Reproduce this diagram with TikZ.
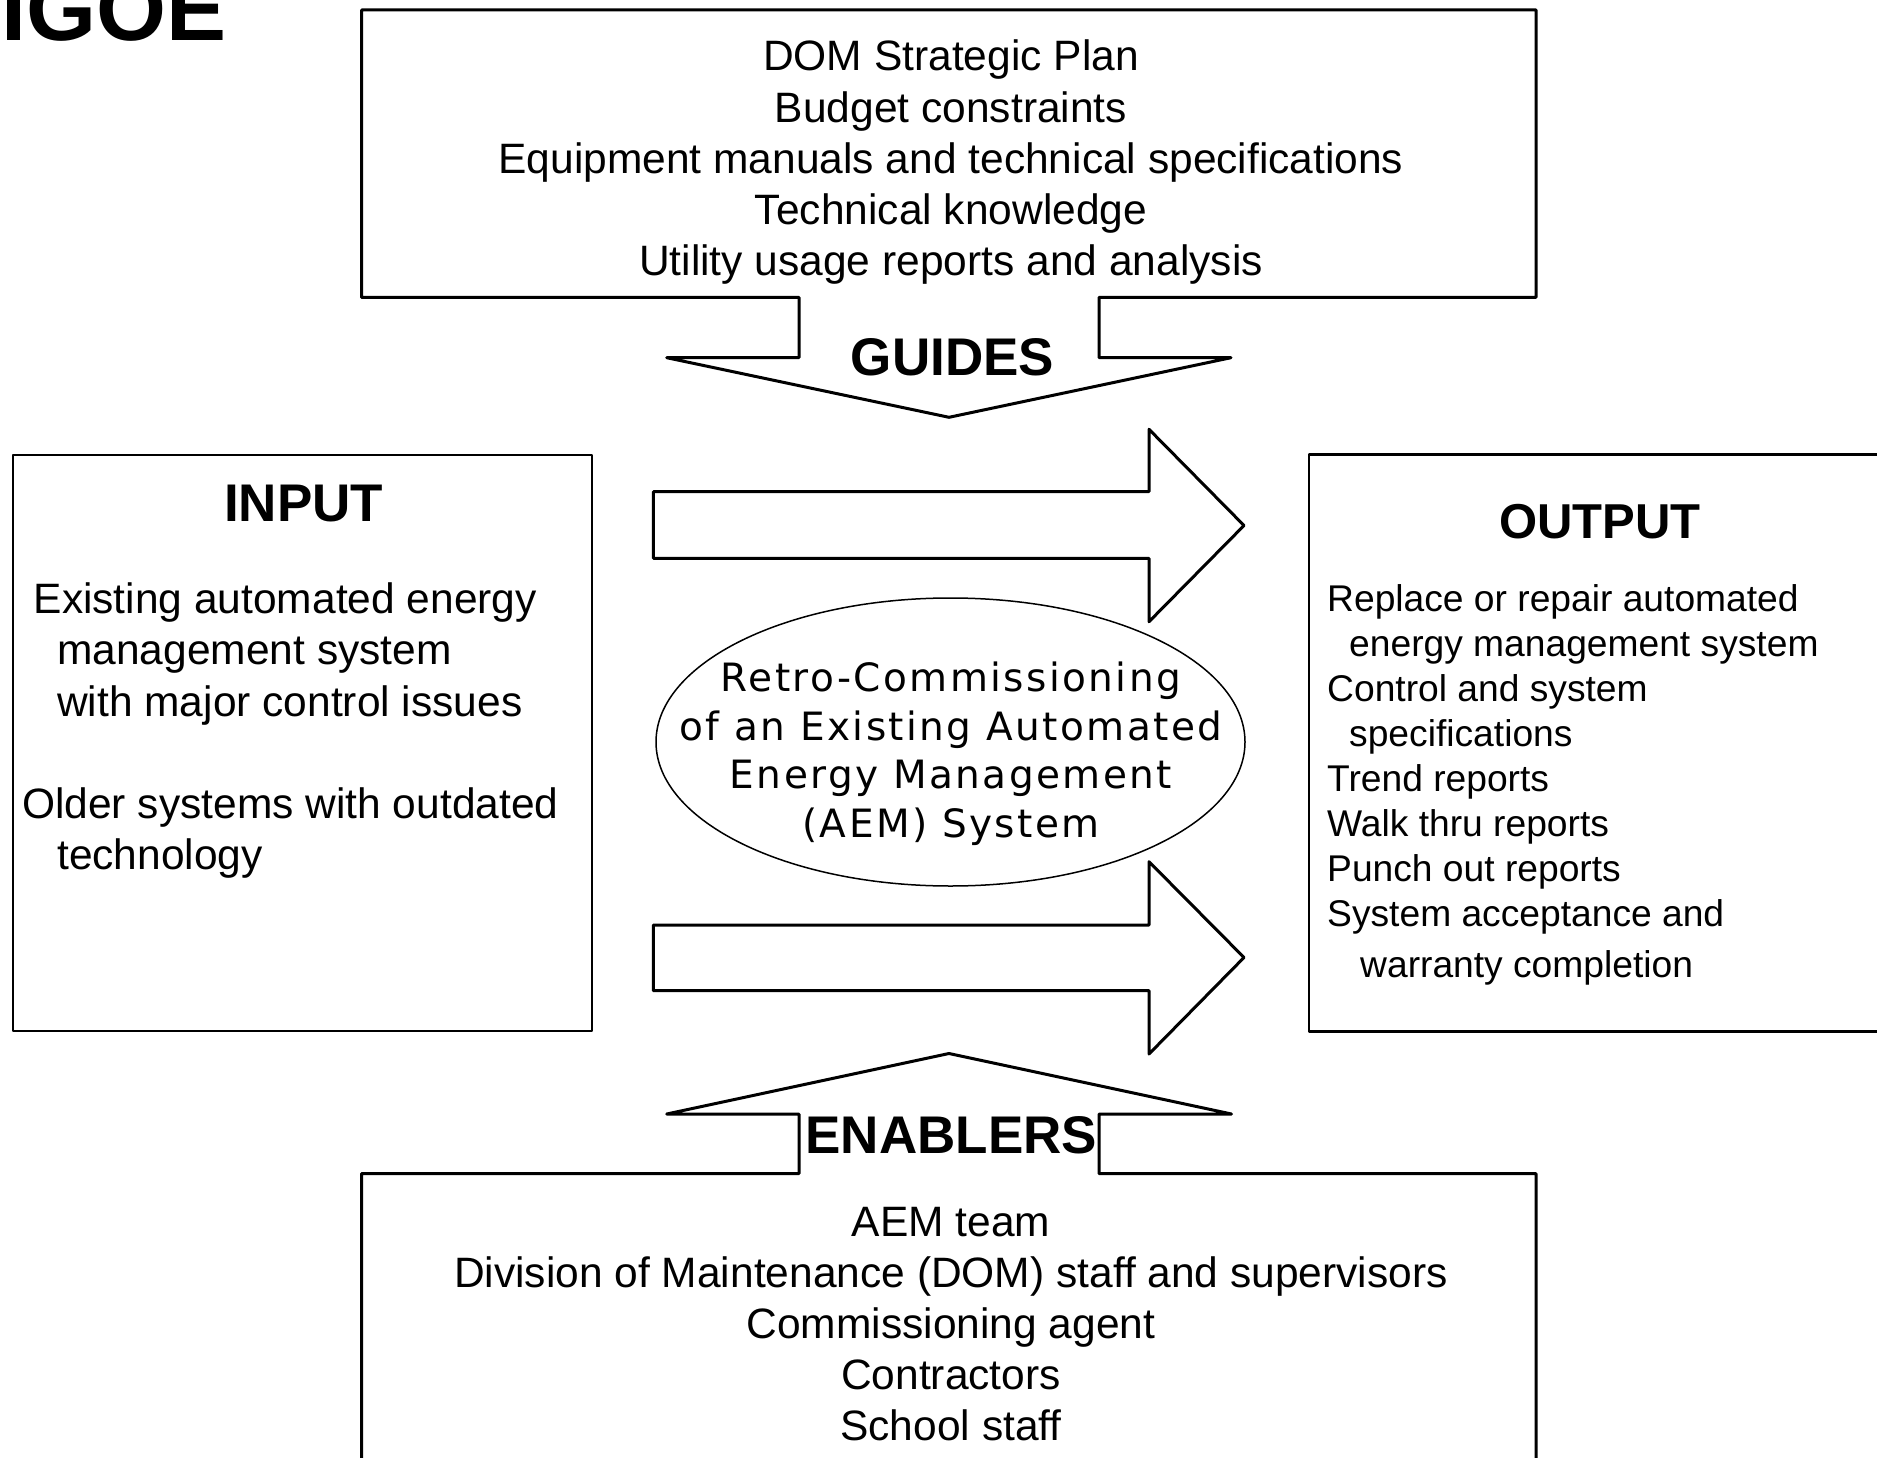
\documentclass[tikz,border=0pt]{standalone}
\usepackage{fontspec}
\setmainfont{Liberation Sans}
\newfontfamily\ovalfont[LetterSpace=6.2]{DejaVu Sans}
\usetikzlibrary{shapes.geometric}
\tikzset{
  frame/.style={draw, line width=3pt, line join=round},
  heading/.style={inner sep=0pt, font=\bfseries\fontsize{53}{60}\selectfont},
  bodytext/.style={inner sep=0pt, font=\fontsize{42.5}{51.2}\selectfont},
  listtext/.style={inner sep=0pt, font=\fontsize{37.2}{45}\selectfont},
  ovaltext/.style={inner sep=0pt, font=\ovalfont\fontsize{39}{48.5}\selectfont}
}

\begin{document}
\begin{tikzpicture}[x=1pt, y=-1pt]
    \useasboundingbox (0,0) rectangle (1877,1458);
    \clip (0,0) rectangle (1877,1458);
    \fill[white] (0,0) rectangle (1877,1458);

    \node[inner sep=0pt, font=\bfseries\fontsize{90}{90}\selectfont, anchor=base east] (title) at (226.5,41) {IGOE};

    % guides box with its arrow
    \draw[frame] (799,297.3) -- (361.5,297.3) -- (361.5,10) -- (1536,10) -- (1536,297.3) -- (1099,297.3)
      -- (1099,357.7) -- (1231,357.7) -- (949,417.3) -- (666.7,357.7) -- (799,357.7) -- cycle;
    \node[bodytext, align=center, anchor=north] (guidestext) at (951,40) {DOM Strategic Plan\\Budget constraints\\Equipment manuals and technical specifications\\Technical knowledge\\Utility usage reports and analysis};
    \node[heading, anchor=base] (guideslabel) at (952.5,375) {GUIDES};

    % input
    \node[frame, line width=2pt, minimum width=578.7pt, minimum height=576.3pt, anchor=north west] (inputbox) at (12,453.7) {};
    \node[heading, anchor=base] (inputlabel) at (303.7,521.5) {INPUT};
    \node[bodytext, align=left, anchor=north west] (inputtext) at (22,582.6) {\hspace*{11.5pt}Existing automated energy\\ \hspace*{35pt}management system\\ \hspace*{35pt}with major control issues\\[51.2pt] Older systems with outdated\\ \hspace*{35pt}technology};

    % output
    \node[frame, line width=2.5pt, minimum width=592pt, minimum height=576.7pt, anchor=north west] (outputbox) at (1307.7,453.3) {};
    \node[heading, font=\bfseries\fontsize{49}{56}\selectfont, anchor=base] (outputlabel) at (1600,538) {OUTPUT};
    \node[listtext, align=left, anchor=north west] (outputtext) at (1327,584.6) {Replace or repair automated\\ \hspace*{22pt}energy management system\\ Control and system\\ \hspace*{22pt}specifications\\ Trend reports\\ Walk thru reports\\ Punch out reports\\ System acceptance and\\[6pt] \hspace*{33pt}warranty completion};

    % the process and its arrows
    \draw[frame] (653.3,491.7) -- (1149,491.7) -- (1149,429.3) -- (1244,525.5) -- (1149,621.7) -- (1149,558.3) -- (653.3,558.3) -- cycle;
    \draw[frame] (653.3,925) -- (1149,925) -- (1149,861.7) -- (1244,957.5) -- (1149,1054) -- (1149,990.7) -- (653.3,990.7) -- cycle;
    \node[draw, ellipse, line width=1.5pt, inner sep=0pt, minimum width=589pt, minimum height=288pt] (process) at (950.5,742) {};
    \node[ovaltext, align=center, anchor=north] (processtext) at (951,662) {Retro-Commissioning\\of an Existing Automated\\Energy Management\\(AEM) System};

    % enablers box with its arrow
    \draw[frame] (799,1173.6) -- (799,1114) -- (666.7,1114) -- (949,1053.5) -- (1231.5,1114) -- (1099,1114)
      -- (1099,1173.6) -- (1536,1173.6) -- (1536,1475) -- (361.5,1475) -- (361.5,1173.6) -- cycle;
    \node[heading, anchor=base] (enablerslabel) at (951.3,1153) {ENABLERS};
    \node[bodytext, align=center, anchor=north] (enablerstext) at (951,1206.6) {AEM team\\Division of Maintenance (DOM) staff and supervisors\\Commissioning agent\\Contractors\\School staff};
\end{tikzpicture}
\end{document}
